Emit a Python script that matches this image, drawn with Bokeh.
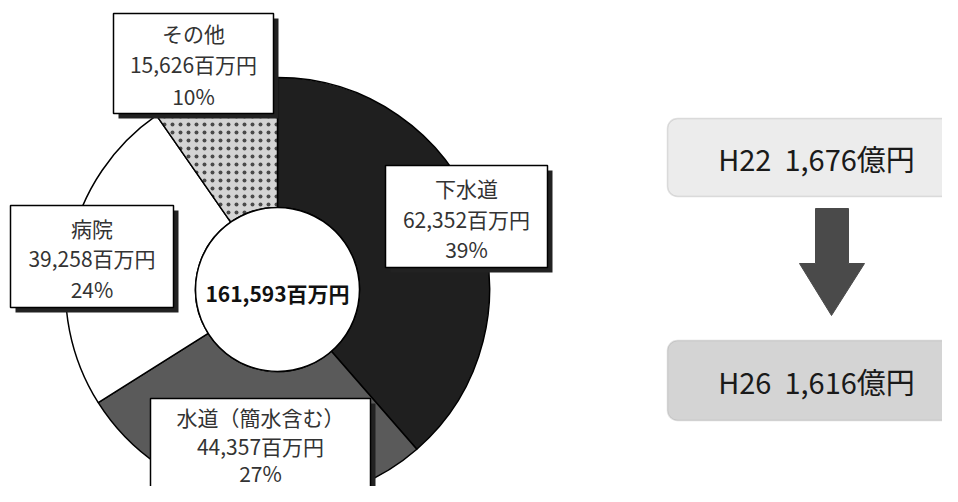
import numpy as np
from bokeh.plotting import figure
from bokeh.models import Range1d, BoxAnnotation
from bokeh.core.properties import value
from bokeh.embed import file_html
from bokeh.resources import INLINE

# ---- data ----
categories = ["下水道", "水道（簡水含む）", "病院", "その他"]
amounts = [62352, 44357, 39258, 15626]          # 百万円
percents = [39, 27, 24, 10]
colors = ["#1f1f1f", "#5a5a5a", "#ffffff", "#d4d4d4"]
hatches = [None, None, None, "dot"]
years = ["H22", "H26"]
totals_oku = [1676, 1616]                         # 億円
box_fills = ["#ececec", "#d4d4d4"]

W, H = 942, 486
FONT = "Noto Sans CJK JP"


def Y(yref):
    return 502 - yref


p = figure(width=W, height=H, x_range=Range1d(0, 942), y_range=Range1d(16, 502),
           output_backend="svg", toolbar_location=None,
           x_axis_location=None, y_axis_location=None, min_border=0)
p.grid.visible = False
p.outline_line_color = None
p.background_fill_color = "white"
p.border_fill_color = "white"

# ---- donut ----
cx, cy = 277, Y(289)
r_out, r_in = 212, 82
total = sum(amounts)
fracs = np.array(amounts) / total
cum = np.concatenate([[0], np.cumsum(fracs)])
starts = np.pi / 2 - 2 * np.pi * cum[:-1]
ends = np.pi / 2 - 2 * np.pi * cum[1:]

for i in range(len(amounts)):
    kw = {}
    if hatches[i]:
        kw = dict(hatch_pattern=hatches[i], hatch_color="#4a4a4a",
                  hatch_scale=8, hatch_weight=8)
    p.annular_wedge(x=cx, y=cy, inner_radius=r_in, outer_radius=r_out,
                    start_angle=starts[i], end_angle=ends[i], direction="clock",
                    fill_color=colors[i], line_color="black", line_width=1.5, **kw)

p.circle(x=cx, y=cy, radius=r_in, fill_color="white", line_color="black", line_width=1.5)
p.text(x=[cx], y=[Y(292)], text=[f"{total:,}百万円"], text_align="center",
       text_baseline="middle", text_font=value(FONT), text_font_size="21px",
       text_font_style="bold", text_color="#111111")

# ---- label boxes (left, top, right, bottom in reference px) ----
boxes = [
    (385, 165, 547, 267),   # 下水道
    (150, 398, 370, 510),   # 水道
    (10, 205, 173, 307),    # 病院
    (113, 13, 273, 113),    # その他
]
line_ys = [
    (187, 218, 248),
    (416, 445, 472),
    (227, 257, 288),
    (32, 63, 95),
]
for i, (l, t, r, b) in enumerate(boxes):
    p.quad(left=l + 5, right=r + 5, top=Y(t + 5), bottom=Y(b + 5),
           fill_color="#222222", line_color=None)
    p.quad(left=l, right=r, top=Y(t), bottom=Y(b),
           fill_color="white", line_color="black", line_width=1.5)
    xc = (l + r) / 2
    texts = [categories[i], f"{amounts[i]:,}百万円", f"{percents[i]}%"]
    p.text(x=[xc] * 3, y=[Y(v) for v in line_ys[i]], text=texts,
           text_align="center", text_baseline="middle", text_font=value(FONT),
           text_font_size="21px", text_color="#333333")

# ---- right side: comparison boxes ----
rb = [(667, 118, 962, 196), (667, 340, 962, 420)]
for i, (l, t, r, b) in enumerate(rb):
    p.add_layout(BoxAnnotation(left=l, right=r, top=Y(t), bottom=Y(b),
                               fill_color=box_fills[i], fill_alpha=1.0,
                               line_color="#9a9a9a", line_width=1.5,
                               border_radius=10, level="underlay"))
    p.text(x=[816], y=[Y((t + b) / 2)],
           text=[f"{years[i]}\u00a0 {totals_oku[i]:,}億円"],
           text_align="center", text_baseline="middle", text_font=value(FONT),
           text_font_size="29px", text_color="#1a1a1a")

# arrow
ax = [815, 848, 848, 864, 831, 799, 815]
ay = [208, 208, 263, 263, 315, 263, 263]
p.patch(x=ax, y=[Y(v) for v in ay], fill_color="#4a4a4a", line_color="#4a4a4a")

open("out.html", "w").write(file_html(p, INLINE))
